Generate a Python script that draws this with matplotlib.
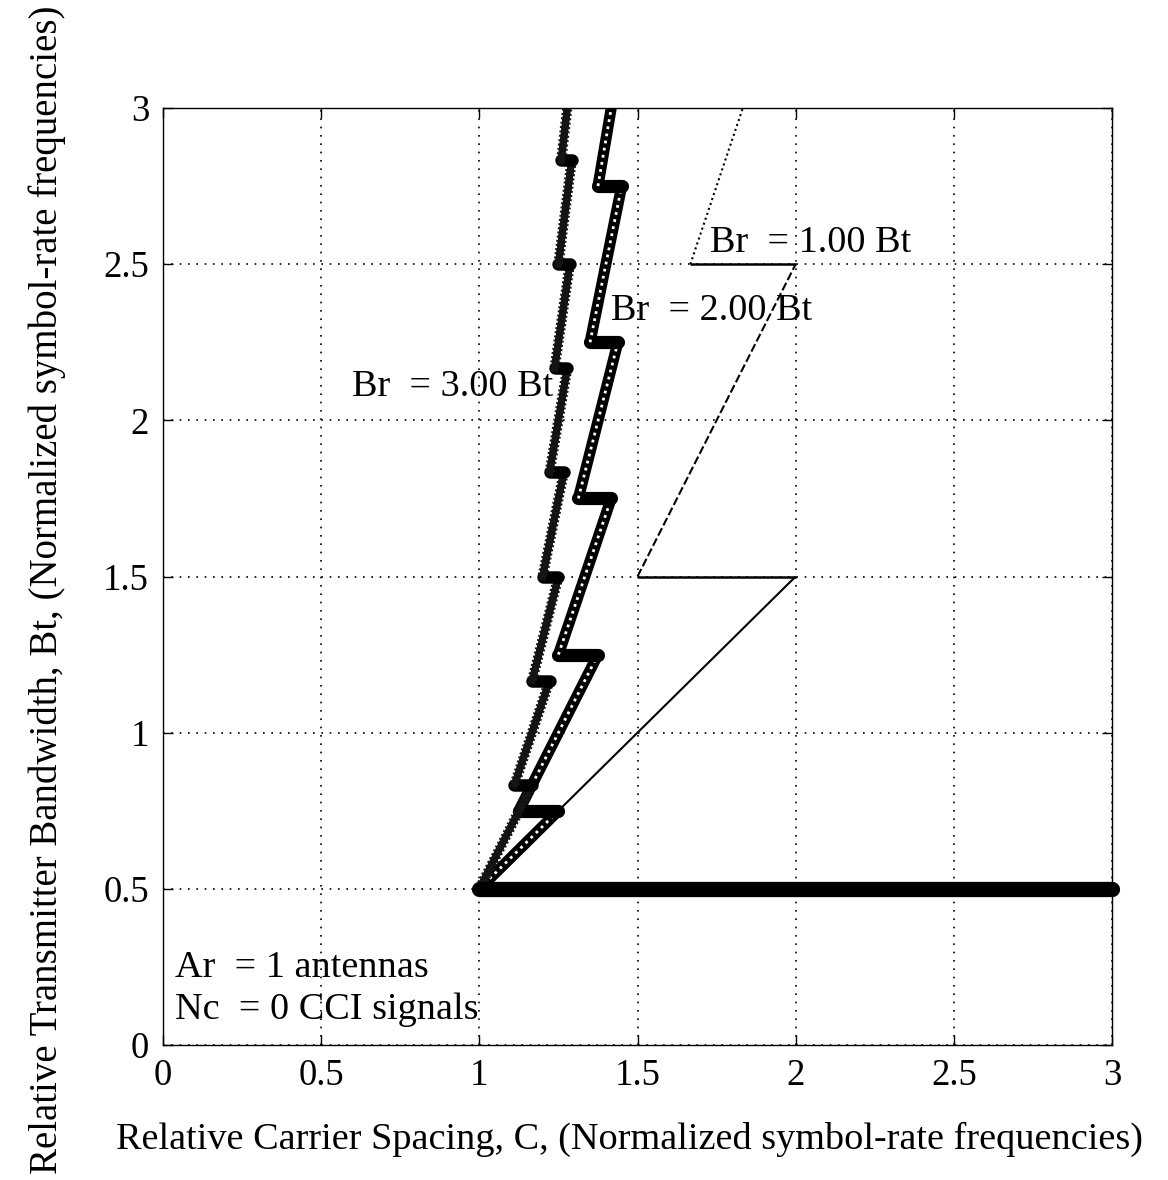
import numpy as np
import matplotlib
matplotlib.use("Agg")
import matplotlib.pyplot as plt
import matplotlib.patheffects as pe

# Boundary vertices (C, Bt)
br1_c = [1.0, 2.0, 1.5, 2.0, 1.667, 1.833]
br1_bt = [0.5, 1.5, 1.5, 2.5, 2.5, 3.0]

br2_c = [1.0, 1.25, 1.125, 1.375, 1.25, 1.417, 1.313, 1.438, 1.35, 1.45, 1.375, 1.417]
br2_bt = [0.5, 0.75, 0.75, 1.25, 1.25, 1.75, 1.75, 2.25, 2.25, 2.75, 2.75, 3.0]

br3_c = [1.0, 1.167, 1.111, 1.222, 1.167, 1.25, 1.2, 1.267,
         1.222, 1.278, 1.238, 1.286, 1.25, 1.292, 1.259, 1.278]
br3_bt = [0.5, 0.833, 0.833, 1.167, 1.167, 1.5, 1.5, 1.833,
          1.833, 2.167, 2.167, 2.5, 2.5, 2.833, 2.833, 3.0]

floor_c = [1.0, 3.0]
floor_bt = [0.5, 0.5]

ticks = [0, 0.5, 1, 1.5, 2, 2.5, 3]
tick_labels = ['0', '0.5', '1', '1.5', '2', '2.5', '3']

labels = ['Br  = 1.00 Bt', 'Br  = 2.00 Bt', 'Br  = 3.00 Bt']
label_c = [1.729, 1.416, 0.598]
label_bt = [2.568, 2.35, 2.107]

plt.rcParams['font.family'] = ['Liberation Serif', 'DejaVu Serif']

fig = plt.figure(figsize=(11.68, 11.80), dpi=100)
ax = fig.add_axes([163 / 1168, 1 - 1045 / 1180, 949 / 1168, 937 / 1180])


def segments(cs, bts):
    return [((cs[i], cs[i + 1]), (bts[i], bts[i + 1])) for i in range(len(cs) - 1)]


# Br = 1.00 Bt : thin lines, different dash per slanted piece
slant_styles = [(0, ()), (0, (4, 1.5)), (0, (1, 1.5))]
k = 0
for xs, ys in segments(br1_c, br1_bt):
    if ys[0] == ys[1]:
        ax.plot(xs, ys, color='k', lw=1.8, solid_capstyle='butt')
    else:
        ax.plot(xs, ys, color='k', lw=1.5, linestyle=slant_styles[k])
        k += 1

# Br = 2.00 Bt : chain of small circles, solid steps
for xs, ys in segments(br2_c, br2_bt):
    if ys[0] == ys[1]:
        ax.plot(xs, ys, color='k', lw=9.5, solid_capstyle='round')
    else:
        ax.plot(xs, ys, color='k', lw=8, solid_capstyle='round')
        ax.plot(xs, ys, color='white', lw=2.0, linestyle=(0, (1.0, 1.6)))

# Br = 3.00 Bt : chain of asterisks, blob steps
for xs, ys in segments(br3_c, br3_bt):
    if ys[0] == ys[1]:
        ax.plot(xs, ys, color='k', lw=9, solid_capstyle='round')
    else:
        ax.plot(xs, ys, color='0.08', lw=5,
                path_effects=[pe.withTickedStroke(angle=90, spacing=3.0, length=1.0, linewidth=1.4),
                              pe.withTickedStroke(angle=-90, spacing=3.0, length=1.0, linewidth=1.4),
                              pe.Normal()])

# common lower boundary
ax.plot(floor_c, floor_bt, color='k', lw=11, solid_capstyle='round', clip_on=False, zorder=5)

for s, x, y in zip(labels, label_c, label_bt):
    ax.text(x, y, s, fontsize=27.5, va='center', ha='left')
ax.text(0.038, 0.247, 'Ar  = 1 antennas', fontsize=27.5, va='center', ha='left')
ax.text(0.038, 0.112, 'Nc  = 0 CCI signals', fontsize=27.5, va='center', ha='left')

ax.set_xlim(0, 3)
ax.set_ylim(0, 3)
ax.set_xticks(ticks)
ax.set_yticks(ticks)
ax.set_xticklabels(tick_labels)
ax.set_yticklabels(tick_labels)
ax.tick_params(direction='in', length=7, width=1, top=True, right=True, labelsize=26.5, pad=10)
ax.grid(True, color='k', linestyle=(0, (1, 4)), linewidth=1.2)
for sp in ax.spines.values():
    sp.set_linewidth(1.0)

ax.set_xlabel('Relative Carrier Spacing, C, (Normalized symbol-rate frequencies)', fontsize=27.5)
ax.xaxis.set_label_coords(0.492, -0.082)
ax.set_ylabel('Relative Transmitter Bandwidth, Bt, (Normalized symbol-rate frequencies)', fontsize=28)
ax.yaxis.set_label_coords(-0.102, 0.4856)

fig.savefig('out.png', dpi=100)
